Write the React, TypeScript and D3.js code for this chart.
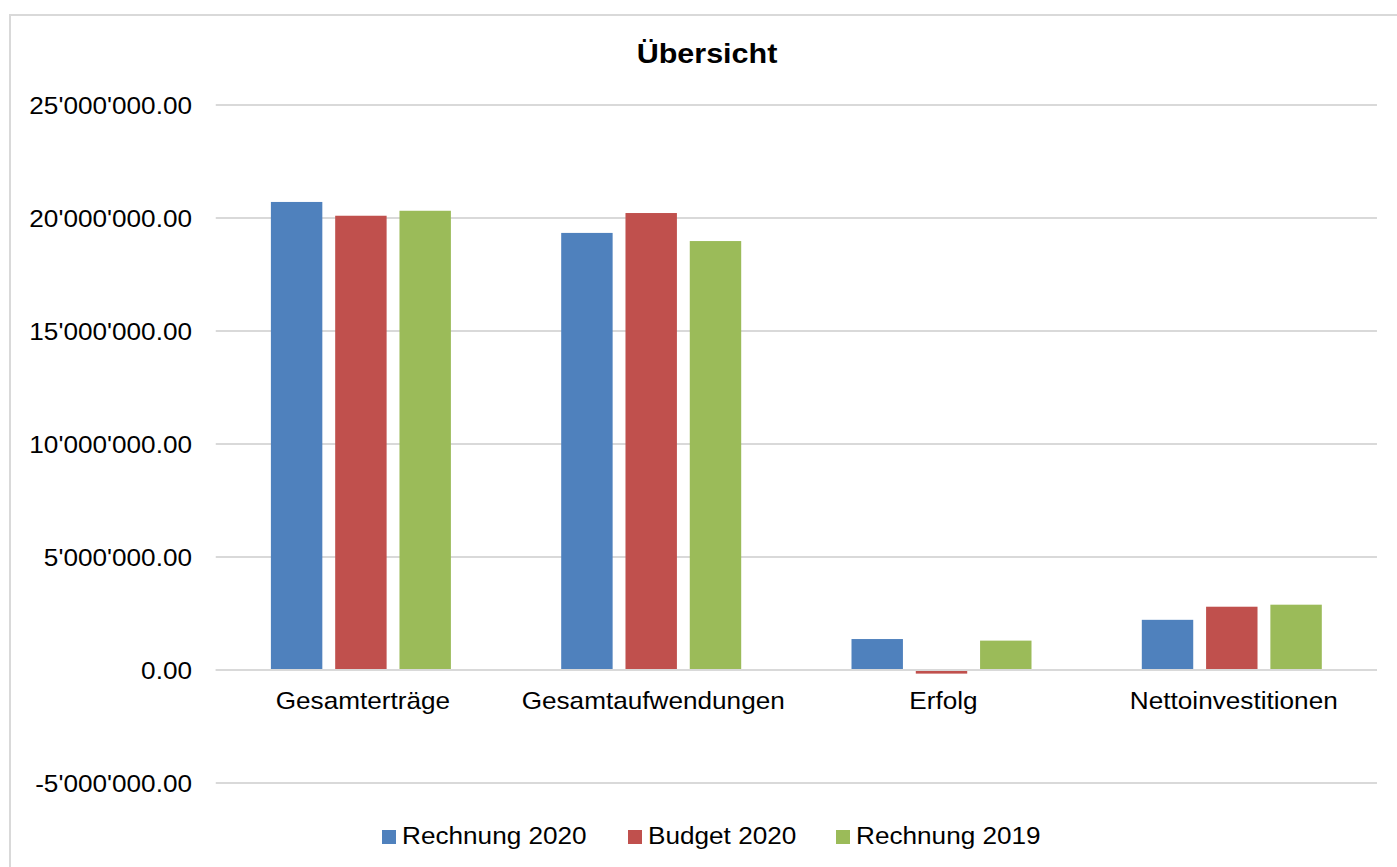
import React from "react";
import * as d3 from "d3";

const categories = ["Gesamterträge", "Gesamtaufwendungen", "Erfolg", "Nettoinvestitionen"];
const seriesNames = ["Rechnung 2020", "Budget 2020", "Rechnung 2019"];
const rechnung2020 = [20710000, 19340000, 1370000, 2220000];
const budget2020 = [20100000, 20220000, -160000, 2800000];
const rechnung2019 = [20320000, 18980000, 1300000, 2890000];
const yTicks = [-5000000, 0, 5000000, 10000000, 15000000, 20000000, 25000000];
const colors = ["#4f81bd", "#c0504d", "#9bbb59"];

const W = 1397;
const H = 867;
const SX = 1.09;
const FONT = "'Liberation Sans', Arial, sans-serif";

function fmt(v: number) {
  const s = d3.format(",.2f")(v);
  return s.replace(/,/g, "'").replace("−", "-");
}

function T({ x, y, anchor, size, weight, children }: any) {
  return (
    <text
      transform={`translate(${x},${y}) scale(${SX},1)`}
      textAnchor={anchor || "start"}
      fontFamily={FONT}
      fontSize={size || 24}
      fontWeight={weight || "normal"}
      fill="#000"
    >
      {children}
    </text>
  );
}

export default function App() {
  const series = [rechnung2020, budget2020, rechnung2019];
  const x0 = d3.scaleBand<string>().domain(categories).range([215.75, 1376.95]).paddingInner(0).paddingOuter(0);
  const y = d3.scaleLinear().domain([-5000000, 25000000]).range([783, 105]);
  const groupW = 180;
  const x1 = d3
    .scaleBand<number>()
    .domain([0, 1, 2])
    .range([0, groupW])
    .paddingInner(0.2)
    .paddingOuter(0);

  const legendX = [382, 628, 836];

  return (
    <svg
      width={W}
      height={H}
      style={{ position: "absolute", left: 0, top: 0, background: "#fff" }}
    >
      <rect x={0} y={0} width={W} height={H} fill="#fff" />
      <rect x={10} y={15} width={W + 20} height={H + 20} fill="none" stroke="#d9d9d9" strokeWidth={2} />
      <T x={707} y={63} anchor="middle" size={28} weight="bold">Übersicht</T>
      {yTicks.map((t) => (
        <g key={t}>
          <line x1={215.75} x2={1376.95} y1={y(t)} y2={y(t)} stroke="#d9d9d9" strokeWidth={2} />
          <T x={192} y={y(t) + 8.5} anchor="end">{fmt(t)}</T>
        </g>
      ))}
      {categories.map((c, ci) => {
        const gx = (x0(c) as number) + x0.bandwidth() / 2 - groupW / 2;
        return (
          <g key={c}>
            {series.map((s, si) => {
              const v = s[ci];
              const y0 = y(0);
              const yv = y(v);
              return (
                <rect
                  key={si}
                  x={gx + (x1(si) as number)}
                  y={Math.min(y0, yv)}
                  width={x1.bandwidth()}
                  height={Math.abs(yv - y0)}
                  fill={colors[si]}
                />
              );
            })}
            <T x={(x0(c) as number) + x0.bandwidth() / 2 + 2} y={709} anchor="middle">{c}</T>
          </g>
        );
      })}
      <line x1={215.75} x2={1376.95} y1={y(0)} y2={y(0)} stroke="#d9d9d9" strokeWidth={2} />
      {seriesNames.map((n, i) => (
        <g key={n}>
          <rect x={legendX[i]} y={830} width={14} height={14} fill={colors[i]} />
          <T x={legendX[i] + 20} y={844}>{n}</T>
        </g>
      ))}
    </svg>
  );
}
